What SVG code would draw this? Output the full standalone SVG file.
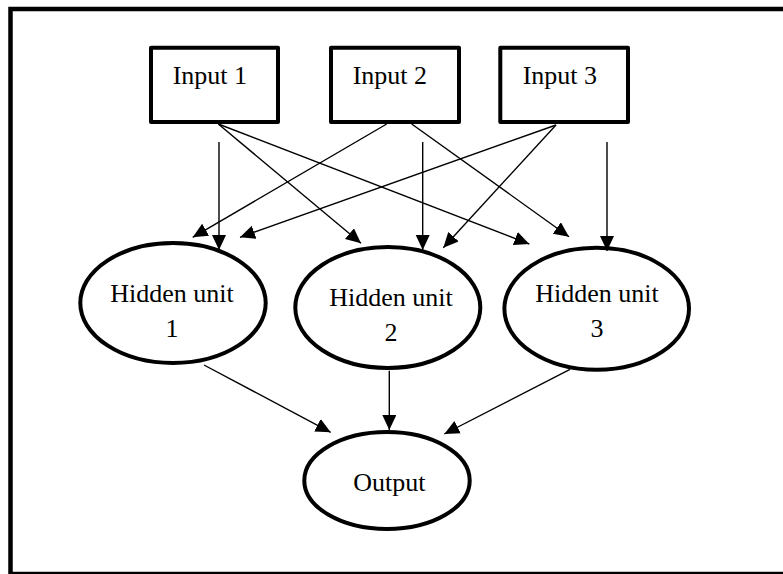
<svg xmlns="http://www.w3.org/2000/svg" width="783" height="574" viewBox="0 0 783 574">
<defs>
<marker id="arr" markerUnits="userSpaceOnUse" markerWidth="16" markerHeight="15" refX="15" refY="7" orient="auto">
<path d="M0,0 L15,7 L0,14 z" fill="#000"/>
</marker>
<style>
.box{fill:#fff;stroke:#000;stroke-width:4;stroke-linejoin:round}
.ell{fill:#fff;stroke:#000;stroke-width:4}
.t{font-family:"Liberation Serif","Times New Roman",serif;font-size:26px;fill:#000}
.c{text-anchor:middle}
.con line{stroke:#000;stroke-width:1.4;marker-end:url(#arr)}
</style>
</defs>
<rect width="783" height="574" fill="#fff"/>
<rect x="10.5" y="9" width="790" height="565" fill="none" stroke="#000" stroke-width="4.5"/>
<g id="input1"><rect class="box" x="151" y="47.7" width="127" height="74.3"/><text class="t" x="172.7" y="84.3">Input 1</text></g>
<g id="input2"><rect class="box" x="331" y="47.7" width="128" height="74.3"/><text class="t" x="352.7" y="84.3">Input 2</text></g>
<g id="input3"><rect class="box" x="500.3" y="47.7" width="127.7" height="74.3"/><text class="t" x="522.7" y="84.3">Input 3</text></g>
<g id="hidden1"><ellipse class="ell" cx="173" cy="303" rx="92.7" ry="60"/><text class="t c" x="172" y="301.7">Hidden unit</text><text class="t c" x="172" y="336.7">1</text></g>
<g id="hidden2"><ellipse class="ell" cx="387.8" cy="307.5" rx="92.5" ry="60.5"/><text class="t c" x="391" y="306">Hidden unit</text><text class="t c" x="391" y="341">2</text></g>
<g id="hidden3"><ellipse class="ell" cx="596.7" cy="308.7" rx="92.3" ry="61"/><text class="t c" x="597" y="301.7">Hidden unit</text><text class="t c" x="597" y="336.7">3</text></g>
<g id="output"><ellipse class="ell" cx="387" cy="480.5" rx="82.7" ry="48.5"/><text class="t c" x="389.3" y="491">Output</text></g>
<g id="connectors" class="con">
<line x1="219" y1="142" x2="219" y2="250"/>
<line x1="422.7" y1="142" x2="422.7" y2="250"/>
<line x1="607" y1="142" x2="607" y2="251"/>
<line x1="218.3" y1="124" x2="361" y2="243.3"/>
<line x1="218.3" y1="124" x2="529.3" y2="244"/>
<line x1="386.7" y1="124" x2="192.7" y2="237.3"/>
<line x1="411.7" y1="124" x2="569" y2="236.7"/>
<line x1="556" y1="125" x2="240" y2="237.3"/>
<line x1="556" y1="125" x2="443.3" y2="247.7"/>
<line x1="204" y1="365" x2="330.7" y2="432.3"/>
<line x1="389.3" y1="370.7" x2="389.3" y2="430"/>
<line x1="570" y1="369.3" x2="444.3" y2="434"/>
</g>
</svg>
